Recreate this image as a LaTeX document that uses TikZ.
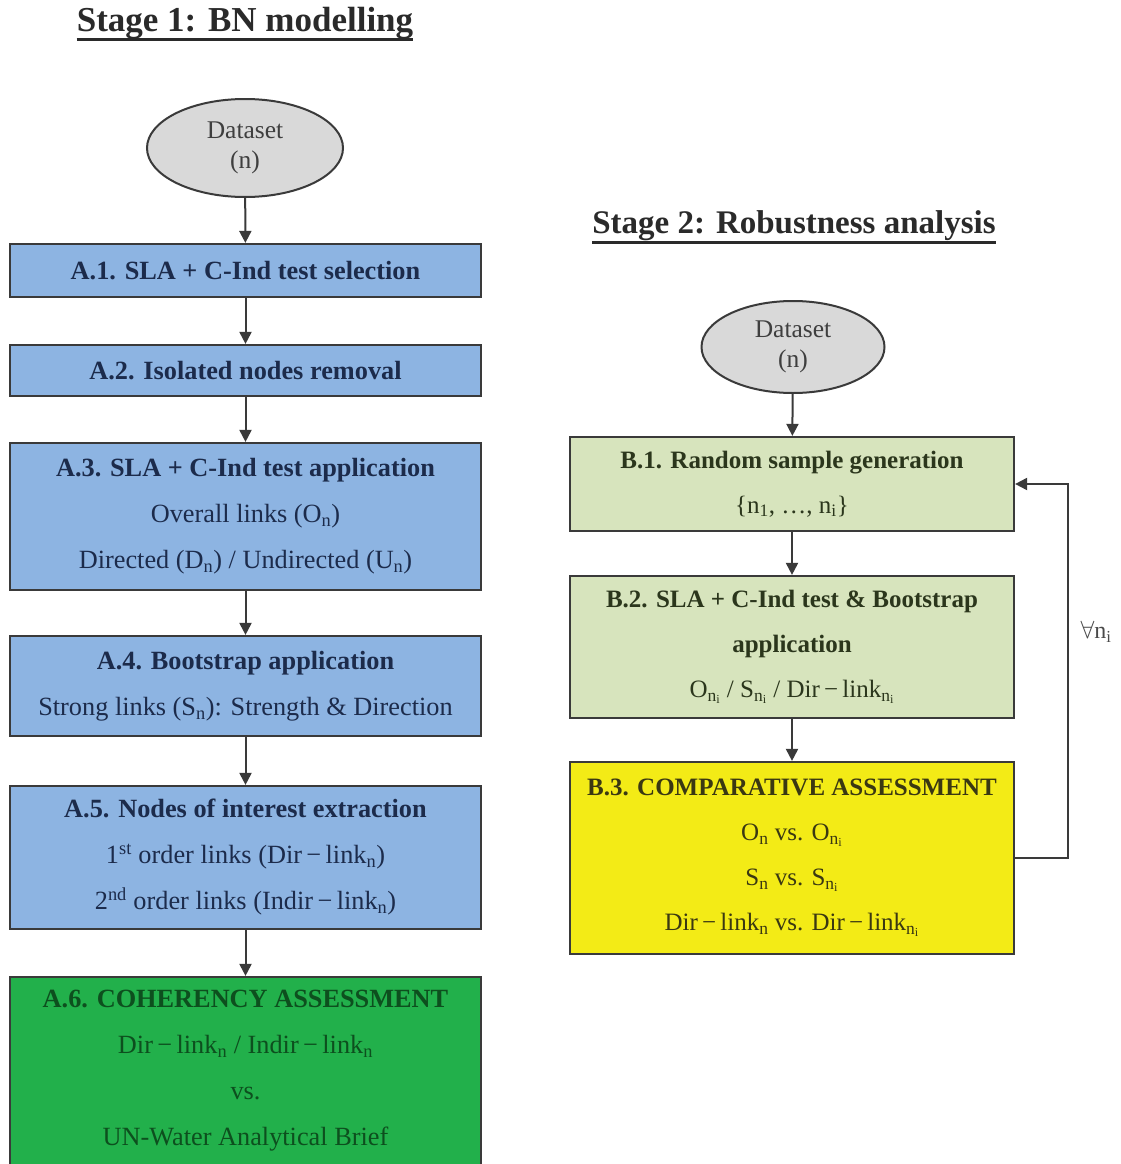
\documentclass[tikz,border=0pt]{standalone}
\usepackage{fontspec}
\setmainfont{LiberationSerif}[Extension=.ttf, UprightFont=*-Regular,
  BoldFont=*-Bold, ItalicFont=*-Italic, BoldItalicFont=*-BoldItalic]
\usetikzlibrary{arrows.meta,shapes.geometric}

\definecolor{edgegray}{HTML}{3A3A3A}
\definecolor{titlegray}{HTML}{2A2A2A}
\definecolor{boxblue}{HTML}{8DB4E2}
\definecolor{boxgreen}{HTML}{22B04B}
\definecolor{boxpale}{HTML}{D7E4BD}
\definecolor{boxyellow}{HTML}{F3EB16}
\definecolor{dataGray}{HTML}{D9D9D9}
\definecolor{txtnavy}{HTML}{1C2B4B}
\definecolor{txtdkgreen}{HTML}{0D4F1E}
\definecolor{txtolive}{HTML}{2B361C}
\definecolor{txtmustard}{HTML}{3A3812}

% "Dir - link" and "Indir - link" with a minus sign between the words
\newcommand{\dirlk}{Dir\,−\,link}
\newcommand{\indirlk}{Indir\,−\,link}

\begin{document}
\begin{tikzpicture}[x=1pt,y=-1pt,
  stagetitle/.style={anchor=base, inner sep=0pt, text=titlegray,
    font=\fontsize{35}{40}\selectfont\bfseries},
  dataset/.style={ellipse, draw=edgegray, line width=2pt, fill=dataGray,
    inner sep=0pt, align=center, text=titlegray!90,
    font=\fontsize{25.5}{30}\selectfont},
  box/.style={rectangle, draw=edgegray, line width=2.2pt, inner sep=0pt,
    align=center, font=\fontsize{26.3}{46}\selectfont},
  abox/.style={box, fill=boxblue, text=txtnavy, minimum width=471},
  bbox/.style={box, fill=boxpale, text=txtolive, minimum width=444,
    font=\fontsize{25}{45}\selectfont},
  flow/.style={draw=edgegray, line width=2pt,
    -{Triangle[length=12pt,width=12pt]}},
  underl/.style={line width=3pt, draw=titlegray}
]
\useasboundingbox (0,0) rectangle (1120,1164);

% ---------- Stage 1 ----------
\node[stagetitle] (t1) at (245,32) {Stage 1: BN modelling};
\draw[underl] ([yshift=-8pt]t1.base west) -- ([yshift=-8pt]t1.base east);

\node[dataset, minimum width=196, minimum height=98] (d1) at (245,148)
  {Dataset\\(n)};

\node[abox, minimum height=53] (a1) at (245.5,270.5)
  {\bfseries A.1. SLA + C-Ind test selection};
\node[abox, minimum height=51] (a2) at (245.5,370.5)
  {\bfseries A.2. Isolated nodes removal};
\node[abox, minimum height=147] (a3) at (245.5,516.5)
  {{\bfseries A.3. SLA + C-Ind test application}\\
   Overall links (O\textsubscript{n})\\
   Directed (D\textsubscript{n}) / Undirected (U\textsubscript{n})};
\node[abox, minimum height=100] (a4) at (245.5,686)
  {{\bfseries A.4. Bootstrap application}\\
   Strong links (S\textsubscript{n}): Strength \& Direction};
\node[abox, minimum height=143] (a5) at (245.5,857.5)
  {{\bfseries A.5. Nodes of interest extraction}\\
   1\textsuperscript{st} order links (\dirlk\textsubscript{n})\\
   2\textsuperscript{nd} order links (\indirlk\textsubscript{n})};
\node[box, fill=boxgreen, text=txtdkgreen, minimum width=471,
      minimum height=188] (a6) at (245.5,1071)
  {{\bfseries A.6. COHERENCY ASSESSMENT}\\
   \dirlk\textsubscript{n} / \indirlk\textsubscript{n}\\
   vs.\\
   UN-Water Analytical Brief};

\draw[flow] (d1) -- (a1);
\draw[flow] (a1) -- (a2);
\draw[flow] (a2) -- (a3);
\draw[flow] (a3) -- (a4);
\draw[flow] (a4) -- (a5);
\draw[flow] (a5) -- (a6);

% ---------- Stage 2 ----------
\node[stagetitle, font=\fontsize{33}{40}\selectfont\bfseries] (t2) at (794,233)
  {Stage 2: Robustness analysis};
\draw[underl] ([yshift=-9pt]t2.base west) -- ([yshift=-9pt]t2.base east);

\node[dataset, minimum width=183, minimum height=92] (d2) at (793,347)
  {Dataset\\(n)};

\node[bbox, minimum height=94] (b1) at (792,484)
  {{\bfseries B.1. Random sample generation}\\
   \{n\textsubscript{1}, …, n\textsubscript{i}\}};
\node[bbox, minimum height=142] (b2) at (792,647)
  {{\bfseries B.2. SLA + C-Ind test \& Bootstrap}\\
   {\bfseries application}\\
   O\textsubscript{n\textsubscript{i}} / S\textsubscript{n\textsubscript{i}} / \dirlk\textsubscript{n\textsubscript{i}}};
\node[bbox, fill=boxyellow, text=txtmustard, minimum height=192] (b3) at (792,858)
  {{\bfseries B.3. COMPARATIVE ASSESSMENT}\\
   O\textsubscript{n} vs. O\textsubscript{n\textsubscript{i}}\\
   S\textsubscript{n} vs. S\textsubscript{n\textsubscript{i}}\\
   \dirlk\textsubscript{n} vs. \dirlk\textsubscript{n\textsubscript{i}}};

\draw[flow] (d2) -- (b1);
\draw[flow] (b1) -- (b2);
\draw[flow] (b2) -- (b3);

% loop back over every sample
\coordinate (loopc) at (1068,858);
\draw[flow] (b3.east) -- (loopc) |- (b1.east);
\node[text=titlegray!85, font=\fontsize{24}{30}\selectfont, anchor=west]
  (forall) at (1077,632) {$\forall$n\textsubscript{i}};
\end{tikzpicture}
\end{document}
